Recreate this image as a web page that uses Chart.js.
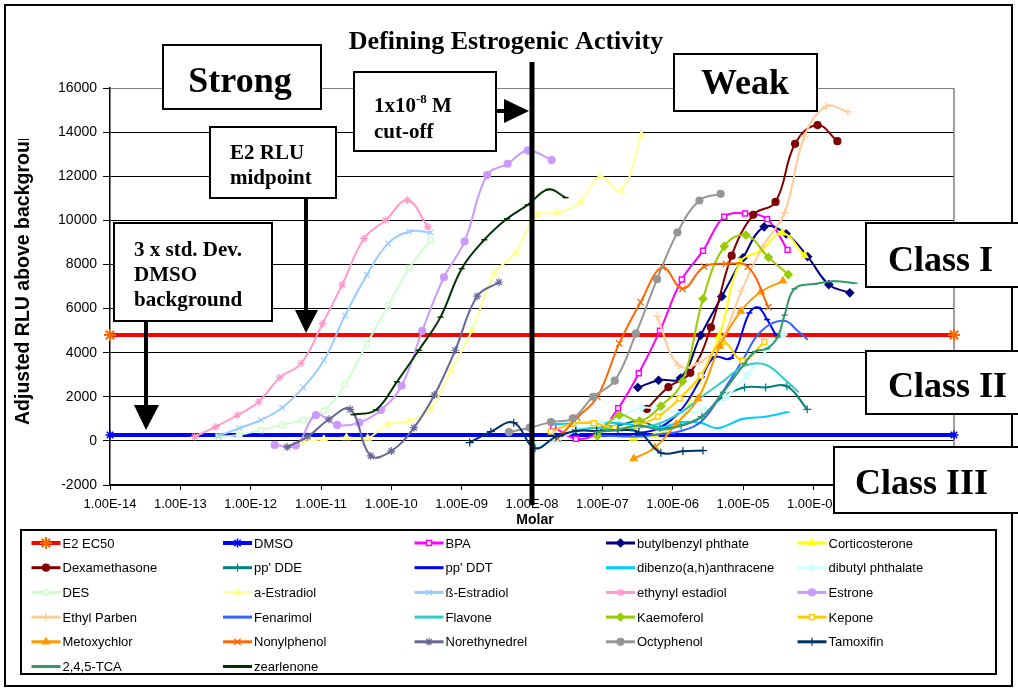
<!DOCTYPE html>
<html>
<head>
<meta charset="utf-8">
<script src="https://cdn.jsdelivr.net/npm/chart.js@4.4.1/dist/chart.umd.min.js"></script>
<style>
  html, body { margin: 0; padding: 0; background: #fff; }
  canvas { display: block; }
</style>
</head>
<body>
<canvas id="estrogenChart" width="1018" height="691"></canvas>
<script>
// tick positions on the molar axis
const xTicks = [1e-14, 1e-13, 1e-12, 1e-11, 1e-10, 1e-9, 1e-8, 1e-7, 1e-6, 1e-5, 1e-4, 1e-3, 1e-2];

// [molar, adjusted RLU]
const e2ec50 = [[1e-14, 4800], [1e-2, 4800]];
const dmso = [[1e-14, 270], [1e-2, 270]];
const bpa = [[2.0e-8, 646], [4.2e-8, 100], [8.3e-8, 347], [1.68e-7, 1476], [3.3e-7, 3070], [6.6e-7, 5000], [1.35e-6, 7314], [2.7e-6, 8624], [5.4e-6, 10159], [1.07e-5, 10307], [2.2e-5, 10054], [4.3e-5, 8660]];
const butylbenzyl = [[3.2e-7, 2420], [6.3e-7, 2750], [1.3e-6, 2850], [2.5e-6, 4786], [5.0e-6, 6547], [1.0e-5, 8294], [2.0e-5, 9707], [4.1e-5, 9390], [8.3e-5, 8353], [1.66e-4, 7088], [3.3e-4, 6714]];
const corticosterone = [[2.75e-7, 122], [5.6e-7, 270], [1.12e-6, 700], [2.3e-6, 2680], [4.6e-6, 4750], [9.1e-6, 8100], [1.8e-5, 8624], [3.6e-5, 9430], [7.5e-5, 8400]];
const dexamethasone = [[4.3e-7, 1450], [8.7e-7, 2440], [1.78e-6, 3085], [3.5e-6, 5150], [6.9e-6, 8398], [1.4e-5, 10249], [2.9e-5, 10836], [5.5e-5, 13468], [1.15e-4, 14320], [2.2e-4, 13590]];
const ppDDE = [[4.2e-8, 500], [8.3e-8, 600], [1.66e-7, 700], [3.3e-7, 900], [6.6e-7, 600], [1.32e-6, 700], [2.6e-6, 1100], [5.2e-6, 2000], [1.05e-5, 2425], [2.1e-5, 2425], [4.2e-5, 2480], [8.2e-5, 1431]];
const ppDDT = [[8.3e-8, 300], [1.66e-7, 250], [3.3e-7, 350], [6.6e-7, 600], [1.32e-6, 1400], [2.6e-6, 2900], [3.9e-6, 3800], [6.8e-6, 3750], [1.23e-5, 5800], [1.65e-5, 6050], [2.2e-5, 5500], [2.95e-5, 4786]];
const dibenzo = [[2.0e-8, 750], [4.2e-8, 800], [8.3e-8, 850], [1.66e-7, 800], [3.3e-7, 700], [6.6e-7, 600], [1.32e-6, 850], [2.6e-6, 800], [4.4e-6, 580], [1.0e-5, 1000], [2.1e-5, 1100], [4.2e-5, 1300]];
const dibutyl = [[1.15e-8, -250], [2.3e-8, 50], [4.6e-8, 500], [9.1e-8, 800], [1.8e-7, 1100], [3.6e-7, 1500], [7.2e-7, 1400], [1.45e-6, 1300], [2.9e-6, 1400], [5.75e-6, 2000], [1.15e-5, 3000], [2.3e-5, 4200], [3.8e-5, 4830]];
const des = [[3.5e-13, 194], [6.9e-13, 271], [1.4e-12, 497], [2.8e-12, 722], [5.6e-12, 948], [1.1e-11, 1369], [2.2e-11, 2574], [4.5e-11, 4411], [9e-11, 6140], [1.8e-10, 7843], [3.6e-10, 9107]];
const aEstradiol = [[5.5e-12, -32], [1.1e-11, 77], [2.3e-11, 149], [4.6e-11, 122], [8.9e-11, 760], [1.8e-10, 900], [3.6e-10, 1476], [7.1e-10, 3206], [1.4e-9, 5012], [2.9e-9, 7571], [5.9e-9, 8547], [1.17e-8, 10280], [2.3e-8, 10353], [4.8e-8, 10805], [9.3e-8, 11965], [1.84e-7, 11332], [3.6e-7, 13861]];
const bEstradiol = [[3.5e-13, 226], [6.9e-13, 573], [1.4e-12, 948], [2.8e-12, 1504], [5.6e-12, 2425], [1.1e-11, 3657], [2.2e-11, 5689], [4.5e-11, 7527], [9e-11, 8953], [1.8e-10, 9495], [3.6e-10, 9450]];
const ethynyl = [[1.6e-13, 194], [3.2e-13, 646], [6.5e-13, 1174], [1.3e-12, 1775], [2.6e-12, 2876], [5.2e-12, 3508], [1.05e-11, 5314], [2.0e-11, 7075], [4.1e-11, 9179], [8.3e-11, 10008], [1.7e-10, 10913], [3.3e-10, 9707]];
const estrone = [[2.2e-12, -181], [4.4e-12, -212], [8.5e-12, 1174], [1.7e-11, 722], [3.5e-11, 826], [7.1e-11, 1400], [1.4e-10, 2500], [2.75e-10, 4990], [5.6e-10, 7418], [1.1e-9, 9043], [2.3e-9, 12055], [4.5e-9, 12565], [8.7e-9, 13170], [1.9e-8, 12732]];
const ethylParben = [[6.0e-7, 5644], [1.2e-6, 3431], [2.4e-6, 3550], [4.8e-6, 4500], [9.5e-6, 6800], [1.9e-5, 8804], [3.9e-5, 10353], [7.5e-5, 13816], [1.53e-4, 15170], [3.1e-4, 14913]];
const fenarimol = [[8.3e-8, 250], [3.3e-7, 200], [6.6e-7, 300], [1.32e-6, 450], [2.6e-6, 900], [5.2e-6, 2250], [1.05e-5, 3800], [1.48e-5, 4650], [2.1e-5, 5150], [2.95e-5, 5400], [4.2e-5, 5420], [5.9e-5, 5000], [8.3e-5, 4590]];
const flavone = [[4.2e-8, 500], [8.3e-8, 600], [1.66e-7, 550], [3.3e-7, 600], [6.6e-7, 800], [1.32e-6, 1300], [2.6e-6, 2000], [5.2e-6, 2700], [1.05e-5, 3400], [2.1e-5, 3450], [4.2e-5, 2700], [6.2e-5, 2200]];
const kaemoferol = [[8.5e-8, 226], [1.74e-7, 1174], [3.4e-7, 900], [6.8e-7, 1580], [1.38e-6, 2700], [2.7e-6, 6440], [5.4e-6, 8820], [1.1e-5, 9330], [2.3e-5, 8320], [4.4e-5, 7540]];
const kepone = [[1.86e-8, 420], [3.8e-8, 780], [7.6e-8, 800], [1.5e-7, 573], [3.05e-7, 700], [6.2e-7, 1100], [1.25e-6, 1928], [2.5e-6, 2950], [5.1e-6, 4483], [9.9e-6, 3640], [2.0e-5, 4483]];
const metoxychlor = [[2.8e-7, -800], [5.6e-7, -300], [1.12e-6, 760], [2.3e-6, 1910], [4.7e-6, 4300], [9.3e-6, 5880], [1.8e-5, 6760], [3.7e-5, 7250]];
const nonylphenol = [[2.3e-8, 100], [4.4e-8, 1050], [8.5e-8, 2000], [1.74e-7, 4420], [3.5e-7, 6290], [7.2e-7, 7870], [1.38e-6, 6894], [2.8e-6, 7900], [5.7e-6, 8023], [1.17e-5, 7900], [2.3e-5, 6063]];
const norethynedrel = [[3.3e-12, -280], [6.5e-12, 194], [1.3e-11, 980], [2.6e-11, 1431], [5.1e-11, -680], [1.0e-10, -460], [2.1e-10, 600], [4.1e-10, 2077], [8.1e-10, 4109], [1.66e-9, 6560], [3.4e-9, 7192]];
const octyphenol = [[4.7e-9, 393], [9.3e-9, 600], [1.86e-8, 850], [3.8e-8, 1024], [7.4e-8, 2000], [1.5e-7, 2730], [3.0e-7, 4862], [6.0e-7, 7330], [1.17e-6, 9450], [2.4e-6, 10900], [4.8e-6, 11200]];
const tamoxifin = [[1.3e-9, -77], [2.6e-9, 420], [5.5e-9, 826], [1.1e-8, -330], [2.2e-8, 194], [4.2e-8, 450], [8.3e-8, 450], [1.66e-7, 480], [3.3e-7, 400], [6.8e-7, -540], [1.4e-6, -470], [2.7e-6, -440]];
const tca = [[8.3e-8, 400], [1.66e-7, 500], [3.3e-7, 700], [6.6e-7, 500], [1.32e-6, 700], [2.6e-6, 1100], [5.2e-6, 2200], [1.05e-5, 3500], [1.48e-5, 4050], [2.2e-5, 4185], [3.1e-5, 4700], [3.9e-5, 5700], [5.4e-5, 6900], [1.05e-4, 7120], [2.0e-4, 7240], [3.85e-4, 7150]];
const zearlenone = [[2.9e-11, 1190], [6.0e-11, 1400], [1.2e-10, 2677], [2.45e-10, 4109], [5.0e-10, 5613], [1.0e-9, 7810], [2.1e-9, 9120], [4.4e-9, 10070], [8.7e-9, 10700], [1.7e-8, 11400], [3.0e-8, 11030]];

const SANS = '"Liberation Sans", Arial, sans-serif';
const SERIF = '"Liberation Serif", "Times New Roman", serif';

function series(label, points, color, marker, extra) {
    return Object.assign({
        label: label,
        data: points.map(function(p) { return { x: p[0], y: p[1] }; }),
        borderColor: color,
        backgroundColor: color,
        pointBackgroundColor: color,
        pointBorderColor: color,
        pointStyle: marker || false,
        pointRadius: marker ? 3.5 : 0,
        pointBorderWidth: 1.2,
        borderWidth: 2,
        showLine: true,
        tension: 0.4,
        clip: false
    }, extra || {});
}

const hollow = { pointBackgroundColor: '#ffffff', pointBorderWidth: 1.5 };
const dash = { pointRadius: 3, pointBorderWidth: 1.5 };

const datasets = [
    series('E2 EC50', e2ec50, '#FF0000', 'star', { borderWidth: 4, tension: 0, pointRadius: 6, pointBorderWidth: 2, pointBorderColor: '#FF6600', pointBackgroundColor: '#FF6600' }),
    series('DMSO', dmso, '#0000FF', 'star', { borderWidth: 4, tension: 0, pointRadius: 4.5, pointBorderWidth: 1.5 }),
    series('BPA', bpa, '#FF00FF', 'rect', hollow),
    series('butylbenzyl phthate', butylbenzyl, '#000080', 'rectRot', { pointRadius: 4 }),
    series('Corticosterone', corticosterone, '#FFFF00', 'triangle', { pointRadius: 4 }),
    series('Dexamethasone', dexamethasone, '#800000', 'circle'),
    series("pp' DDE", ppDDE, '#008080', 'cross', { pointRadius: 4 }),
    series("pp' DDT", ppDDT, '#0000FF', 'line', dash),
    series('dibenzo(a,h)anthracene', dibenzo, '#00CCFF', 'line', dash),
    series('dibutyl phthalate', dibutyl, '#CCFFFF', 'rectRot'),
    series('DES', des, '#CCFFCC', 'rect', hollow),
    series('a-Estradiol', aEstradiol, '#FFFF99', 'triangle', { pointRadius: 4 }),
    series('\u00DF-Estradiol', bEstradiol, '#99CCFF', 'crossRot', { pointRadius: 4 }),
    series('ethynyl estadiol', ethynyl, '#FF99CC', 'star', { pointRadius: 4 }),
    series('Estrone', estrone, '#CC99FF', 'circle'),
    series('Ethyl Parben', ethylParben, '#FFCC99', 'cross', { pointRadius: 4 }),
    series('Fenarimol', fenarimol, '#3366FF', false),
    series('Flavone', flavone, '#33CCCC', false),
    series('Kaemoferol', kaemoferol, '#99CC00', 'rectRot', { pointRadius: 4 }),
    series('Kepone', kepone, '#FFCC00', 'rect', hollow),
    series('Metoxychlor', metoxychlor, '#FF9900', 'triangle', { pointRadius: 4 }),
    series('Nonylphenol', nonylphenol, '#FF6600', 'crossRot', { pointRadius: 4.5 }),
    series('Norethynedrel', norethynedrel, '#666699', 'star', { pointRadius: 4 }),
    series('Octyphenol', octyphenol, '#969696', 'circle'),
    series('Tamoxifin', tamoxifin, '#003366', 'cross', { pointRadius: 4 }),
    series('2,4,5-TCA', tca, '#339966', 'line', dash),
    series('zearlenone', zearlenone, '#003300', 'line', dash)
];

// later series on top, like the original
datasets.forEach(function(ds, i) { ds.order = -i; });

function box(ctx, x1, y1, x2, y2) {
    ctx.fillStyle = '#ffffff';
    ctx.fillRect(x1, y1, x2 - x1, y2 - y1);
    ctx.strokeStyle = '#000000';
    ctx.lineWidth = 2;
    ctx.strokeRect(x1, y1, x2 - x1, y2 - y1);
}

function arrowHead(ctx, pts) {
    ctx.fillStyle = '#000000';
    ctx.beginPath();
    ctx.moveTo(pts[0][0], pts[0][1]);
    ctx.lineTo(pts[1][0], pts[1][1]);
    ctx.lineTo(pts[2][0], pts[2][1]);
    ctx.closePath();
    ctx.fill();
}

function shaft(ctx, x1, y1, x2, y2) {
    ctx.strokeStyle = '#000000';
    ctx.lineWidth = 4;
    ctx.beginPath();
    ctx.moveTo(x1, y1);
    ctx.lineTo(x2, y2);
    ctx.stroke();
}

const decorations = {
    id: 'decorations',
    beforeDraw: function(chart) {
        const ctx = chart.ctx;
        ctx.save();
        ctx.fillStyle = '#ffffff';
        ctx.fillRect(0, 0, chart.width, chart.height);
        ctx.restore();
    },
    beforeDatasetsDraw: function(chart) {
        const ctx = chart.ctx;
        const a = chart.chartArea;
        ctx.save();
        ctx.strokeStyle = '#808080';
        ctx.lineWidth = 1.5;
        ctx.beginPath();
        ctx.moveTo(a.right, a.top);
        ctx.lineTo(a.right, a.bottom);
        ctx.stroke();
        ctx.restore();
    },
    afterDraw: function(chart) {
        const ctx = chart.ctx;
        ctx.save();

        // outer frame
        ctx.strokeStyle = '#000000';
        ctx.lineWidth = 2;
        ctx.strokeRect(5, 5, 1007, 681);

        // cut-off line at 1e-8 M
        const cutX = chart.scales.x.getPixelForValue(1e-8);
        ctx.lineWidth = 5;
        ctx.beginPath();
        ctx.moveTo(cutX, 62);
        ctx.lineTo(cutX, 505);
        ctx.stroke();

        // title
        ctx.fillStyle = '#000000';
        ctx.font = 'bold 26px ' + SERIF;
        ctx.textAlign = 'center';
        ctx.textBaseline = 'alphabetic';
        ctx.fillText('Defining Estrogenic Activity', 506, 49);

        // Strong / Weak
        box(ctx, 163, 45, 321, 109);
        box(ctx, 674, 54, 817, 111);
        ctx.fillStyle = '#000000';
        ctx.font = 'bold 36px ' + SERIF;
        ctx.fillText('Strong', 240, 92);
        ctx.fillText('Weak', 745, 94);

        // cut-off note
        box(ctx, 354, 72, 496, 151);
        shaft(ctx, 496, 111, 506, 111);
        arrowHead(ctx, [[504, 99], [504, 123], [529, 111]]);
        ctx.fillStyle = '#000000';
        ctx.textAlign = 'left';
        ctx.font = 'bold 21px ' + SERIF;
        let tx = 374;
        ctx.fillText('1x10', tx, 112);
        tx += ctx.measureText('1x10').width;
        ctx.font = 'bold 13px ' + SERIF;
        ctx.fillText('-8', tx, 103);
        tx += ctx.measureText('-8').width;
        ctx.font = 'bold 21px ' + SERIF;
        ctx.fillText(' M', tx, 112);
        ctx.fillText('cut-off', 374, 138);

        // E2 RLU midpoint
        box(ctx, 210, 127, 336, 198);
        shaft(ctx, 306, 198, 306, 312);
        arrowHead(ctx, [[295, 310], [318, 310], [306, 333]]);
        ctx.fillStyle = '#000000';
        ctx.font = 'bold 21px ' + SERIF;
        ctx.fillText('E2 RLU', 230, 159);
        ctx.fillText('midpoint', 230, 184);

        // DMSO background
        box(ctx, 114, 223, 272, 321);
        shaft(ctx, 146, 321, 146, 407);
        arrowHead(ctx, [[134, 405], [159, 405], [146, 430]]);
        ctx.fillStyle = '#000000';
        ctx.font = 'bold 21px ' + SERIF;
        ctx.fillText('3 x std. Dev.', 134, 256);
        ctx.fillText('DMSO', 134, 281);
        ctx.fillText('background', 134, 306);

        // classes
        box(ctx, 866, 223, 1022, 287);
        box(ctx, 866, 351, 1022, 414);
        box(ctx, 834, 447, 1022, 513);
        ctx.fillStyle = '#000000';
        ctx.font = 'bold 36px ' + SERIF;
        ctx.fillText('Class I', 888, 271);
        ctx.fillText('Class II', 888, 397);
        ctx.fillText('Class III', 855, 494);

        // axis titles
        ctx.font = 'bold 14px ' + SANS;
        ctx.textAlign = 'center';
        ctx.fillText('Molar', 535, 524);

        ctx.save();
        ctx.beginPath();
        ctx.rect(0, 139, 60, 360);
        ctx.clip();
        ctx.translate(29, 425);
        ctx.rotate(-Math.PI / 2);
        ctx.textAlign = 'left';
        ctx.font = 'bold 19.5px ' + SANS;
        ctx.fillText('Adjusted RLU above background', 0, 0);
        ctx.restore();

        // legend
        ctx.strokeStyle = '#000000';
        ctx.lineWidth = 2;
        ctx.strokeRect(21, 530, 975, 144);
        ctx.font = '13px ' + SANS;
        ctx.textAlign = 'left';
        ctx.textBaseline = 'middle';
        chart.data.datasets.forEach(function(ds, i) {
            const x0 = 31.5 + (i % 5) * 191.5;
            const y = 543 + Math.floor(i / 5) * 24.7;
            ctx.strokeStyle = ds.borderColor;
            ctx.lineWidth = ds.borderWidth > 2 ? 4 : 3;
            ctx.beginPath();
            ctx.moveTo(x0, y);
            ctx.lineTo(x0 + 29, y);
            ctx.stroke();
            if (ds.pointStyle) {
                ctx.fillStyle = ds.pointBackgroundColor;
                ctx.strokeStyle = ds.pointBorderColor;
                ctx.lineWidth = ds.pointBorderWidth;
                Chart.helpers.drawPoint(ctx, {
                    pointStyle: ds.pointStyle,
                    rotation: 0,
                    radius: ds.pointRadius,
                    borderWidth: ds.pointBorderWidth
                }, x0 + 14.5, y);
            }
            ctx.fillStyle = '#000000';
            ctx.fillText(ds.label, x0 + 31, y + 1);
        });

        ctx.restore();
    }
};

function sciLabel(v) {
    const e = Math.round(Math.log10(v));
    return '1.00E' + (e < 0 ? '-' : '+') + String(Math.abs(e)).padStart(2, '0');
}

new Chart(document.getElementById('estrogenChart'), {
    type: 'scatter',
    data: { datasets: datasets },
    options: {
        responsive: false,
        animation: false,
        devicePixelRatio: 1,
        layout: { padding: { left: 0, top: 88, right: 64, bottom: 166 } },
        plugins: {
            legend: { display: false },
            tooltip: { enabled: false },
            title: { display: false }
        },
        scales: {
            x: {
                type: 'logarithmic',
                min: 1e-14,
                max: 1e-2,
                afterBuildTicks: function(scale) {
                    scale.ticks = xTicks.map(function(v) { return { value: v }; });
                },
                afterFit: function(scale) { scale.height = 40; },
                grid: { drawOnChartArea: false, drawTicks: true, tickLength: 5, color: '#000000' },
                border: { color: '#000000', width: 1.5 },
                ticks: {
                    autoSkip: false,
                    maxRotation: 0,
                    minRotation: 0,
                    padding: 7,
                    color: '#000000',
                    font: { family: SANS, size: 13 },
                    callback: function(v) { return sciLabel(v); }
                }
            },
            y: {
                min: -2000,
                max: 16000,
                afterFit: function(scale) { scale.width = 110; },
                grid: {
                    color: function(c) { return c.tick && c.tick.value === 16000 ? '#808080' : '#000000'; },
                    lineWidth: 1,
                    tickLength: 7,
                    tickColor: '#000000'
                },
                border: { color: '#000000', width: 1.5 },
                ticks: {
                    stepSize: 2000,
                    padding: 6,
                    color: '#000000',
                    font: { family: SANS, size: 14 },
                    callback: function(v) { return String(v); }
                }
            }
        }
    },
    plugins: [decorations]
});
</script>
</body>
</html>
